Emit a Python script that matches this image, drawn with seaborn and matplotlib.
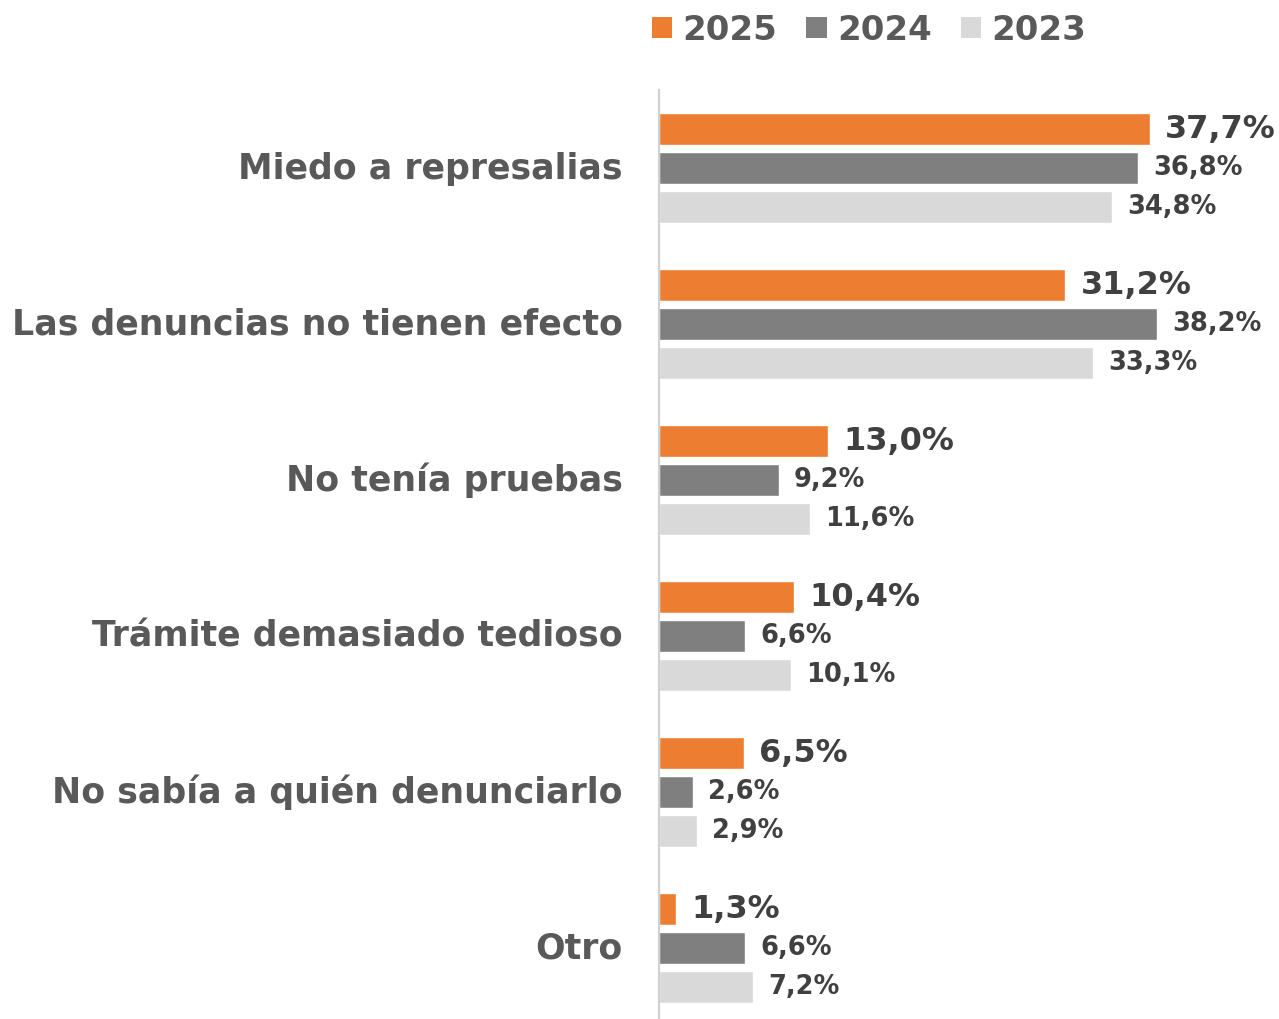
import numpy as np
import pandas as pd
import matplotlib
matplotlib.use("Agg")
import matplotlib.pyplot as plt
import matplotlib.transforms as mtransforms
import seaborn as sns
from matplotlib.patches import Patch

# ── DATA ──────────────────────────────────────────────────────────────────────
categories = ["Miedo a represalias", "Las denuncias no tienen efecto",
              "No tenía pruebas", "Trámite demasiado tedioso",
              "No sabía a quién denunciarlo", "Otro"]
years = ["2025", "2024", "2023"]
vals_2025 = [37.7, 31.2, 13.0, 10.4, 6.5, 1.3]
vals_2024 = [36.8, 38.2, 9.2, 6.6, 2.6, 6.6]
vals_2023 = [34.8, 33.3, 11.6, 10.1, 2.9, 7.2]
colors = ["#ED7D31", "#7F7F7F", "#D9D9D9"]

df = pd.DataFrame({
    "motivo": categories * 3,
    "anio": [y for y in years for _ in categories],
    "valor": vals_2025 + vals_2024 + vals_2023,
})

# ── PLOT ──────────────────────────────────────────────────────────────────────
sns.set_style("white")
plt.rcParams["font.family"] = ["DejaVu Sans"]

fig = plt.figure(figsize=(12.79, 10.19), dpi=100)
ax = fig.add_axes([659 / 1279, 0.0, 1 - 659 / 1279, (1019 - 90) / 1019])

sns.barplot(data=df, y="motivo", x="valor", hue="anio", hue_order=years,
            palette=colors, orient="h", width=0.75, gap=0.2,
            saturation=1, ax=ax, legend=False)

ax.set_xlim(0, 47.6)
ax.set_ylim(5.455, -0.5)
ax.set_xlabel("")
ax.set_ylabel("")
ax.set_xticks([])
for s in ["top", "right", "bottom"]:
    ax.spines[s].set_visible(False)
ax.spines["left"].set_color("#D0D0D0")
ax.spines["left"].set_linewidth(1.5)
ax.tick_params(axis="y", length=0, pad=26)
shift = mtransforms.ScaledTranslation(0, 3 / 100, fig.dpi_scale_trans)
for lab in ax.get_yticklabels():
    lab.set_fontsize(25)
    lab.set_fontweight("bold")
    lab.set_color("#595959")
    lab.set_transform(lab.get_transform() + shift)

# value labels, comma as decimal mark
for i, cont in enumerate(ax.containers):
    labels = [f"{v:.1f}%".replace(".", ",") for v in cont.datavalues]
    big = i == 0
    ax.bar_label(cont, labels=labels, padding=11,
                 fontsize=23 if big else 18.5, fontweight="bold",
                 color="#404040")

handles = [Patch(facecolor=c, edgecolor="none") for c in colors]
leg = fig.legend(handles, years, loc="center", bbox_to_anchor=(869 / 1279, 1 - 30 / 1019),
                 ncol=3, frameon=False, prop={"size": 24.5, "weight": "bold"},
                 handlelength=0.6, handleheight=0.6, handletextpad=0.3,
                 columnspacing=0.85)
for t in leg.get_texts():
    t.set_color("#595959")

fig.savefig("out.png", dpi=100)
